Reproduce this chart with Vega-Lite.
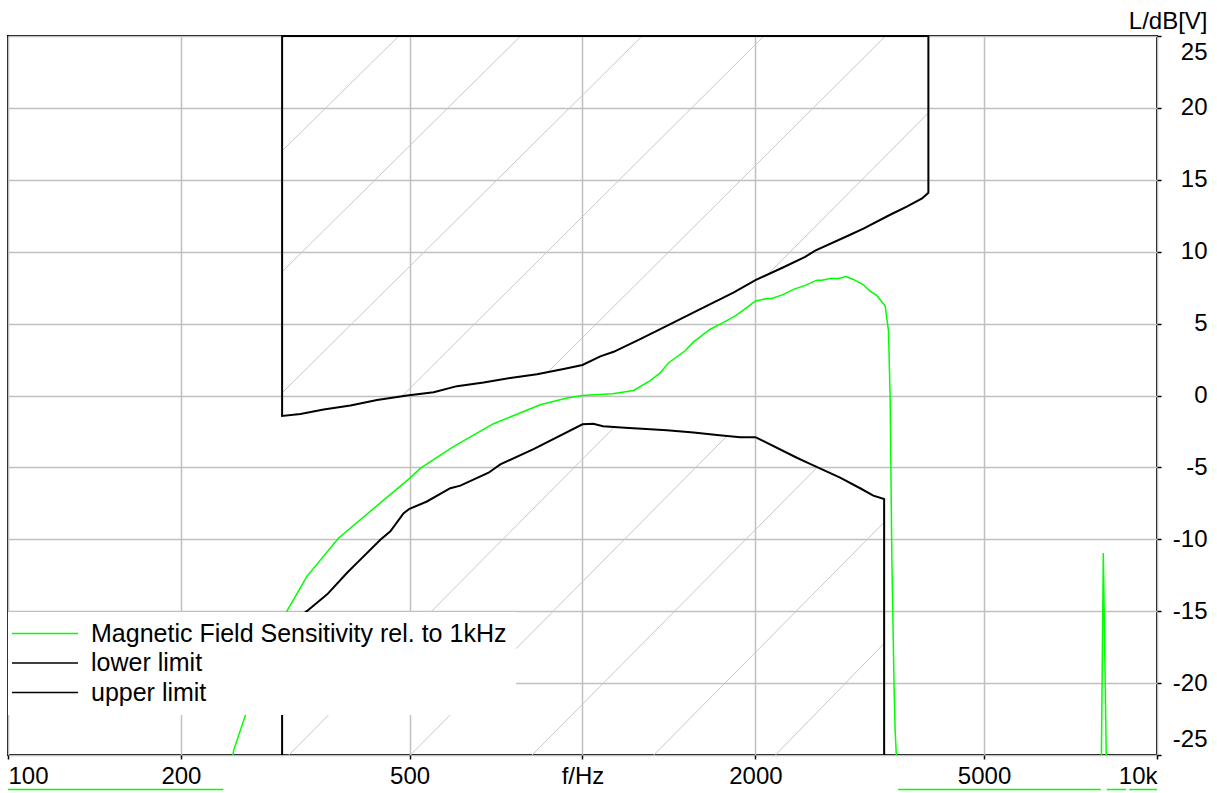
{
  "$schema": "https://vega.github.io/schema/vega-lite/v6.json",
  "width": 1149,
  "height": 719,
  "autosize": {"type": "none"},
  "padding": {"left": 8, "top": 36, "right": 60, "bottom": 38},
  "background": "white",
  "config": {
    "font": "Liberation Sans",
    "view": {"stroke": "black", "strokeWidth": 2}
  },
  "datasets": {
    "hatch": [
      {"f": 300, "db": 17.01, "f2": 479, "db2": 25},
      {"f": 300, "db": 8.6, "f2": 780.3, "db2": 25},
      {"f": 300, "db": 0.18, "f2": 1270, "db2": 25},
      {"f": 484.9, "db": -0.06, "f2": 2069, "db2": 25},
      {"f": 870.9, "db": 1.63, "f2": 3369, "db2": 25},
      {"f": 2088, "db": 8.31, "f2": 4000, "db2": 19.65},
      {"f": 308.2, "db": -25, "f2": 1137, "db2": -2.18},
      {"f": 501.9, "db": -25, "f2": 1785, "db2": -2.81},
      {"f": 817.3, "db": -25, "f2": 2562, "db2": -4.99},
      {"f": 1330.8, "db": -25, "f2": 3350, "db2": -8.82},
      {"f": 2167.5, "db": -25, "f2": 3350, "db2": -17.24}
    ],
    "limits": [
      {"series": "upper limit", "i": 0, "f": 4000, "db": 25},
      {"series": "upper limit", "i": 1, "f": 300, "db": 25},
      {"series": "upper limit", "i": 2, "f": 300, "db": -1.42},
      {"series": "upper limit", "i": 3, "f": 322.9, "db": -1.29},
      {"series": "upper limit", "i": 4, "f": 354.4, "db": -0.97},
      {"series": "upper limit", "i": 5, "f": 394.5, "db": -0.69},
      {"series": "upper limit", "i": 6, "f": 439, "db": -0.32},
      {"series": "upper limit", "i": 7, "f": 495, "db": 0},
      {"series": "upper limit", "i": 8, "f": 550.7, "db": 0.23},
      {"series": "upper limit", "i": 9, "f": 604.6, "db": 0.65},
      {"series": "upper limit", "i": 10, "f": 672.8, "db": 0.9},
      {"series": "upper limit", "i": 11, "f": 748.6, "db": 1.22},
      {"series": "upper limit", "i": 12, "f": 833.3, "db": 1.48},
      {"series": "upper limit", "i": 13, "f": 927, "db": 1.85},
      {"series": "upper limit", "i": 14, "f": 1000, "db": 2.12},
      {"series": "upper limit", "i": 15, "f": 1074, "db": 2.72},
      {"series": "upper limit", "i": 16, "f": 1133, "db": 3.04},
      {"series": "upper limit", "i": 17, "f": 1260, "db": 3.92},
      {"series": "upper limit", "i": 18, "f": 1402, "db": 4.84},
      {"series": "upper limit", "i": 19, "f": 1603, "db": 6.0},
      {"series": "upper limit", "i": 20, "f": 1831, "db": 7.15},
      {"series": "upper limit", "i": 21, "f": 2000, "db": 8.02},
      {"series": "upper limit", "i": 22, "f": 2238, "db": 8.92},
      {"series": "upper limit", "i": 23, "f": 2441, "db": 9.64},
      {"series": "upper limit", "i": 24, "f": 2541, "db": 10.08},
      {"series": "upper limit", "i": 25, "f": 2924, "db": 11.18},
      {"series": "upper limit", "i": 26, "f": 3083, "db": 11.6},
      {"series": "upper limit", "i": 27, "f": 3432, "db": 12.57},
      {"series": "upper limit", "i": 28, "f": 3668, "db": 13.14},
      {"series": "upper limit", "i": 29, "f": 3900, "db": 13.7},
      {"series": "upper limit", "i": 30, "f": 4000, "db": 14.1},
      {"series": "upper limit", "i": 31, "f": 4000, "db": 25},
      {"series": "lower limit", "i": 0, "f": 300, "db": -25},
      {"series": "lower limit", "i": 1, "f": 300, "db": -16.3},
      {"series": "lower limit", "i": 2, "f": 331.6, "db": -14.98},
      {"series": "lower limit", "i": 3, "f": 359.4, "db": -13.83},
      {"series": "lower limit", "i": 4, "f": 389.3, "db": -12.33},
      {"series": "lower limit", "i": 5, "f": 405.1, "db": -11.64},
      {"series": "lower limit", "i": 6, "f": 444.8, "db": -10.03},
      {"series": "lower limit", "i": 7, "f": 463, "db": -9.45},
      {"series": "lower limit", "i": 8, "f": 488.3, "db": -8.18},
      {"series": "lower limit", "i": 9, "f": 500, "db": -7.88},
      {"series": "lower limit", "i": 10, "f": 536, "db": -7.37},
      {"series": "lower limit", "i": 11, "f": 588.8, "db": -6.45},
      {"series": "lower limit", "i": 12, "f": 612.9, "db": -6.27},
      {"series": "lower limit", "i": 13, "f": 686.3, "db": -5.37},
      {"series": "lower limit", "i": 14, "f": 719.3, "db": -4.79},
      {"series": "lower limit", "i": 15, "f": 821.8, "db": -3.73},
      {"series": "lower limit", "i": 16, "f": 1000, "db": -2.0},
      {"series": "lower limit", "i": 17, "f": 1044, "db": -1.96},
      {"series": "lower limit", "i": 18, "f": 1086, "db": -2.14},
      {"series": "lower limit", "i": 19, "f": 1186, "db": -2.25},
      {"series": "lower limit", "i": 20, "f": 1312, "db": -2.35},
      {"series": "lower limit", "i": 21, "f": 1402, "db": -2.42},
      {"series": "lower limit", "i": 22, "f": 1561, "db": -2.58},
      {"series": "lower limit", "i": 23, "f": 1714, "db": -2.74},
      {"series": "lower limit", "i": 24, "f": 1882, "db": -2.9},
      {"series": "lower limit", "i": 25, "f": 2000, "db": -2.9},
      {"series": "lower limit", "i": 26, "f": 2361, "db": -4.33},
      {"series": "lower limit", "i": 27, "f": 2457, "db": -4.65},
      {"series": "lower limit", "i": 28, "f": 2808, "db": -5.71},
      {"series": "lower limit", "i": 29, "f": 3043, "db": -6.45},
      {"series": "lower limit", "i": 30, "f": 3208, "db": -6.96},
      {"series": "lower limit", "i": 31, "f": 3350, "db": -7.2},
      {"series": "lower limit", "i": 32, "f": 3350, "db": -25}
    ],
    "green": [
      {"series": "Magnetic Field Sensitivity rel. to 1kHz", "f": 100, "db": -40},
      {"series": "Magnetic Field Sensitivity rel. to 1kHz", "f": 240, "db": -28},
      {"series": "Magnetic Field Sensitivity rel. to 1kHz", "f": 247.1, "db": -24.66},
      {"series": "Magnetic Field Sensitivity rel. to 1kHz", "f": 262.4, "db": -21.55},
      {"series": "Magnetic Field Sensitivity rel. to 1kHz", "f": 306, "db": -14.98},
      {"series": "Magnetic Field Sensitivity rel. to 1kHz", "f": 331.6, "db": -12.56},
      {"series": "Magnetic Field Sensitivity rel. to 1kHz", "f": 376.3, "db": -9.91},
      {"series": "Magnetic Field Sensitivity rel. to 1kHz", "f": 469.3, "db": -6.68},
      {"series": "Magnetic Field Sensitivity rel. to 1kHz", "f": 500, "db": -5.76},
      {"series": "Magnetic Field Sensitivity rel. to 1kHz", "f": 522, "db": -5.07},
      {"series": "Magnetic Field Sensitivity rel. to 1kHz", "f": 588.8, "db": -3.69},
      {"series": "Magnetic Field Sensitivity rel. to 1kHz", "f": 612.9, "db": -3.27},
      {"series": "Magnetic Field Sensitivity rel. to 1kHz", "f": 700.2, "db": -1.96},
      {"series": "Magnetic Field Sensitivity rel. to 1kHz", "f": 844.2, "db": -0.64},
      {"series": "Magnetic Field Sensitivity rel. to 1kHz", "f": 939.7, "db": -0.18},
      {"series": "Magnetic Field Sensitivity rel. to 1kHz", "f": 1000, "db": 0},
      {"series": "Magnetic Field Sensitivity rel. to 1kHz", "f": 1128, "db": 0.12},
      {"series": "Magnetic Field Sensitivity rel. to 1kHz", "f": 1227, "db": 0.35},
      {"series": "Magnetic Field Sensitivity rel. to 1kHz", "f": 1312, "db": 1.04},
      {"series": "Magnetic Field Sensitivity rel. to 1kHz", "f": 1365, "db": 1.57},
      {"series": "Magnetic Field Sensitivity rel. to 1kHz", "f": 1411, "db": 2.26},
      {"series": "Magnetic Field Sensitivity rel. to 1kHz", "f": 1509, "db": 3.11},
      {"series": "Magnetic Field Sensitivity rel. to 1kHz", "f": 1561, "db": 3.73},
      {"series": "Magnetic Field Sensitivity rel. to 1kHz", "f": 1669, "db": 4.61},
      {"series": "Magnetic Field Sensitivity rel. to 1kHz", "f": 1760, "db": 5.08},
      {"series": "Magnetic Field Sensitivity rel. to 1kHz", "f": 1845, "db": 5.53},
      {"series": "Magnetic Field Sensitivity rel. to 1kHz", "f": 1932, "db": 6.11},
      {"series": "Magnetic Field Sensitivity rel. to 1kHz", "f": 2000, "db": 6.57},
      {"series": "Magnetic Field Sensitivity rel. to 1kHz", "f": 2094, "db": 6.74},
      {"series": "Magnetic Field Sensitivity rel. to 1kHz", "f": 2136, "db": 6.74},
      {"series": "Magnetic Field Sensitivity rel. to 1kHz", "f": 2238, "db": 7.03},
      {"series": "Magnetic Field Sensitivity rel. to 1kHz", "f": 2329, "db": 7.38},
      {"series": "Magnetic Field Sensitivity rel. to 1kHz", "f": 2441, "db": 7.66},
      {"series": "Magnetic Field Sensitivity rel. to 1kHz", "f": 2558, "db": 8.02},
      {"series": "Magnetic Field Sensitivity rel. to 1kHz", "f": 2610, "db": 8.02},
      {"series": "Magnetic Field Sensitivity rel. to 1kHz", "f": 2698, "db": 8.14},
      {"series": "Magnetic Field Sensitivity rel. to 1kHz", "f": 2790, "db": 8.14},
      {"series": "Magnetic Field Sensitivity rel. to 1kHz", "f": 2873, "db": 8.28},
      {"series": "Magnetic Field Sensitivity rel. to 1kHz", "f": 2962, "db": 8.07},
      {"series": "Magnetic Field Sensitivity rel. to 1kHz", "f": 3083, "db": 7.7},
      {"series": "Magnetic Field Sensitivity rel. to 1kHz", "f": 3166, "db": 7.26},
      {"series": "Magnetic Field Sensitivity rel. to 1kHz", "f": 3252, "db": 6.96},
      {"series": "Magnetic Field Sensitivity rel. to 1kHz", "f": 3364, "db": 6.22},
      {"series": "Magnetic Field Sensitivity rel. to 1kHz", "f": 3409, "db": 4.5},
      {"series": "Magnetic Field Sensitivity rel. to 1kHz", "f": 3432, "db": -0.23},
      {"series": "Magnetic Field Sensitivity rel. to 1kHz", "f": 3455, "db": -11.3},
      {"series": "Magnetic Field Sensitivity rel. to 1kHz", "f": 3487, "db": -20.5},
      {"series": "Magnetic Field Sensitivity rel. to 1kHz", "f": 3501, "db": -23.3},
      {"series": "Magnetic Field Sensitivity rel. to 1kHz", "f": 3515, "db": -24.7},
      {"series": "Magnetic Field Sensitivity rel. to 1kHz", "f": 3540, "db": -28},
      {"series": "Magnetic Field Sensitivity rel. to 1kHz", "f": 5000, "db": -40},
      {"series": "Magnetic Field Sensitivity rel. to 1kHz", "f": 7990, "db": -28},
      {"series": "Magnetic Field Sensitivity rel. to 1kHz", "f": 8064, "db": -10.95},
      {"series": "Magnetic Field Sensitivity rel. to 1kHz", "f": 8180, "db": -28},
      {"series": "Magnetic Field Sensitivity rel. to 1kHz", "f": 9000, "db": -40},
      {"series": "Magnetic Field Sensitivity rel. to 1kHz", "f": 10000, "db": -40}
    ],
    "strip": [
      {"f": 100, "f2": 237, "db": -27.4},
      {"f": 3543, "f2": 7980, "db": -27.4},
      {"f": 8174, "f2": 8832, "db": -27.4},
      {"f": 8950, "f2": 10000, "db": -27.4}
    ]
  },
  "layer": [
    {
      "data": {"name": "hatch"},
      "mark": {"type": "rule", "color": "#c8c8c8", "strokeWidth": 1},
      "encoding": {
        "x": {
          "field": "f", "type": "quantitative",
          "scale": {"type": "log", "domain": [100, 10000], "nice": false},
          "axis": {
            "values": [100, 200, 500, 1000, 2000, 5000, 10000],
            "labelExpr": "datum.value == 1000 ? 'f/Hz' : (datum.value == 10000 ? '10k' : '' + datum.value)",
            "title": null,
            "grid": true, "gridColor": "#c0c0c0", "gridWidth": 1.5,
            "domain": false,
            "ticks": true, "tickColor": "black", "tickSize": 4, "tickWidth": 1.5,
            "labelFontSize": 24, "labelColor": "black", "labelFont": "Liberation Sans",
            "labelFlush": true, "labelPadding": 5, "labelOverlap": false
          }
        },
        "x2": {"field": "f2"},
        "y": {
          "field": "db", "type": "quantitative",
          "scale": {"domain": [-25, 25], "nice": false, "zero": false},
          "axis": {
            "orient": "right",
            "values": [-25, -20, -15, -10, -5, 0, 5, 10, 15, 20, 25],
            "labelExpr": "'' + datum.value",
            "title": "L/dB[V]",
            "titleAngle": 0, "titleAlign": "right", "titleBaseline": "alphabetic",
            "titleX": 50, "titleY": -8,
            "titleFontSize": 24, "titleFontWeight": "normal", "titleColor": "black", "titleFont": "Liberation Sans",
            "grid": true, "gridColor": "#c0c0c0", "gridWidth": 1.5,
            "domain": false,
            "ticks": true, "tickColor": "black", "tickSize": 4, "tickWidth": 1.5,
            "labelFontSize": 24, "labelColor": "black", "labelFont": "Liberation Sans",
            "labelAlign": "right", "labelPadding": 46,
            "labelFlush": true, "labelFlushOffset": -4, "labelOverlap": false
          }
        },
        "y2": {"field": "db2"}
      }
    },
    {
      "data": {"name": "limits"},
      "mark": {"type": "line", "strokeWidth": 2, "clip": false},
      "encoding": {
        "x": {"field": "f", "type": "quantitative"},
        "y": {"field": "db", "type": "quantitative"},
        "order": {"field": "i", "type": "quantitative"},
        "color": {
          "field": "series", "type": "nominal",
          "scale": {
            "domain": ["Magnetic Field Sensitivity rel. to 1kHz", "lower limit", "upper limit"],
            "range": ["#00ff00", "#000000", "#000000"]
          },
          "legend": {
            "orient": "none", "legendX": 0, "legendY": 576,
            "title": null, "fillColor": "white", "padding": 9,
            "rowPadding": 3.5,
            "labelFontSize": 25, "labelColor": "black", "labelFont": "Liberation Sans",
            "labelOffset": 49, "labelLimit": 0,
            "symbolType": "M-3.5,0H9.7", "symbolSize": 100, "symbolStrokeWidth": 1.5
          }
        }
      }
    },
    {
      "data": {"name": "green"},
      "mark": {"type": "line", "strokeWidth": 1.5, "clip": true},
      "encoding": {
        "x": {"field": "f", "type": "quantitative"},
        "y": {"field": "db", "type": "quantitative"},
        "color": {"field": "series", "type": "nominal"}
      }
    },
    {
      "data": {"name": "strip"},
      "mark": {"type": "rule", "color": "#00ff00", "strokeWidth": 1.5, "clip": false},
      "encoding": {
        "x": {"field": "f", "type": "quantitative"},
        "x2": {"field": "f2"},
        "y": {"field": "db", "type": "quantitative"}
      }
    }
  ]
}
